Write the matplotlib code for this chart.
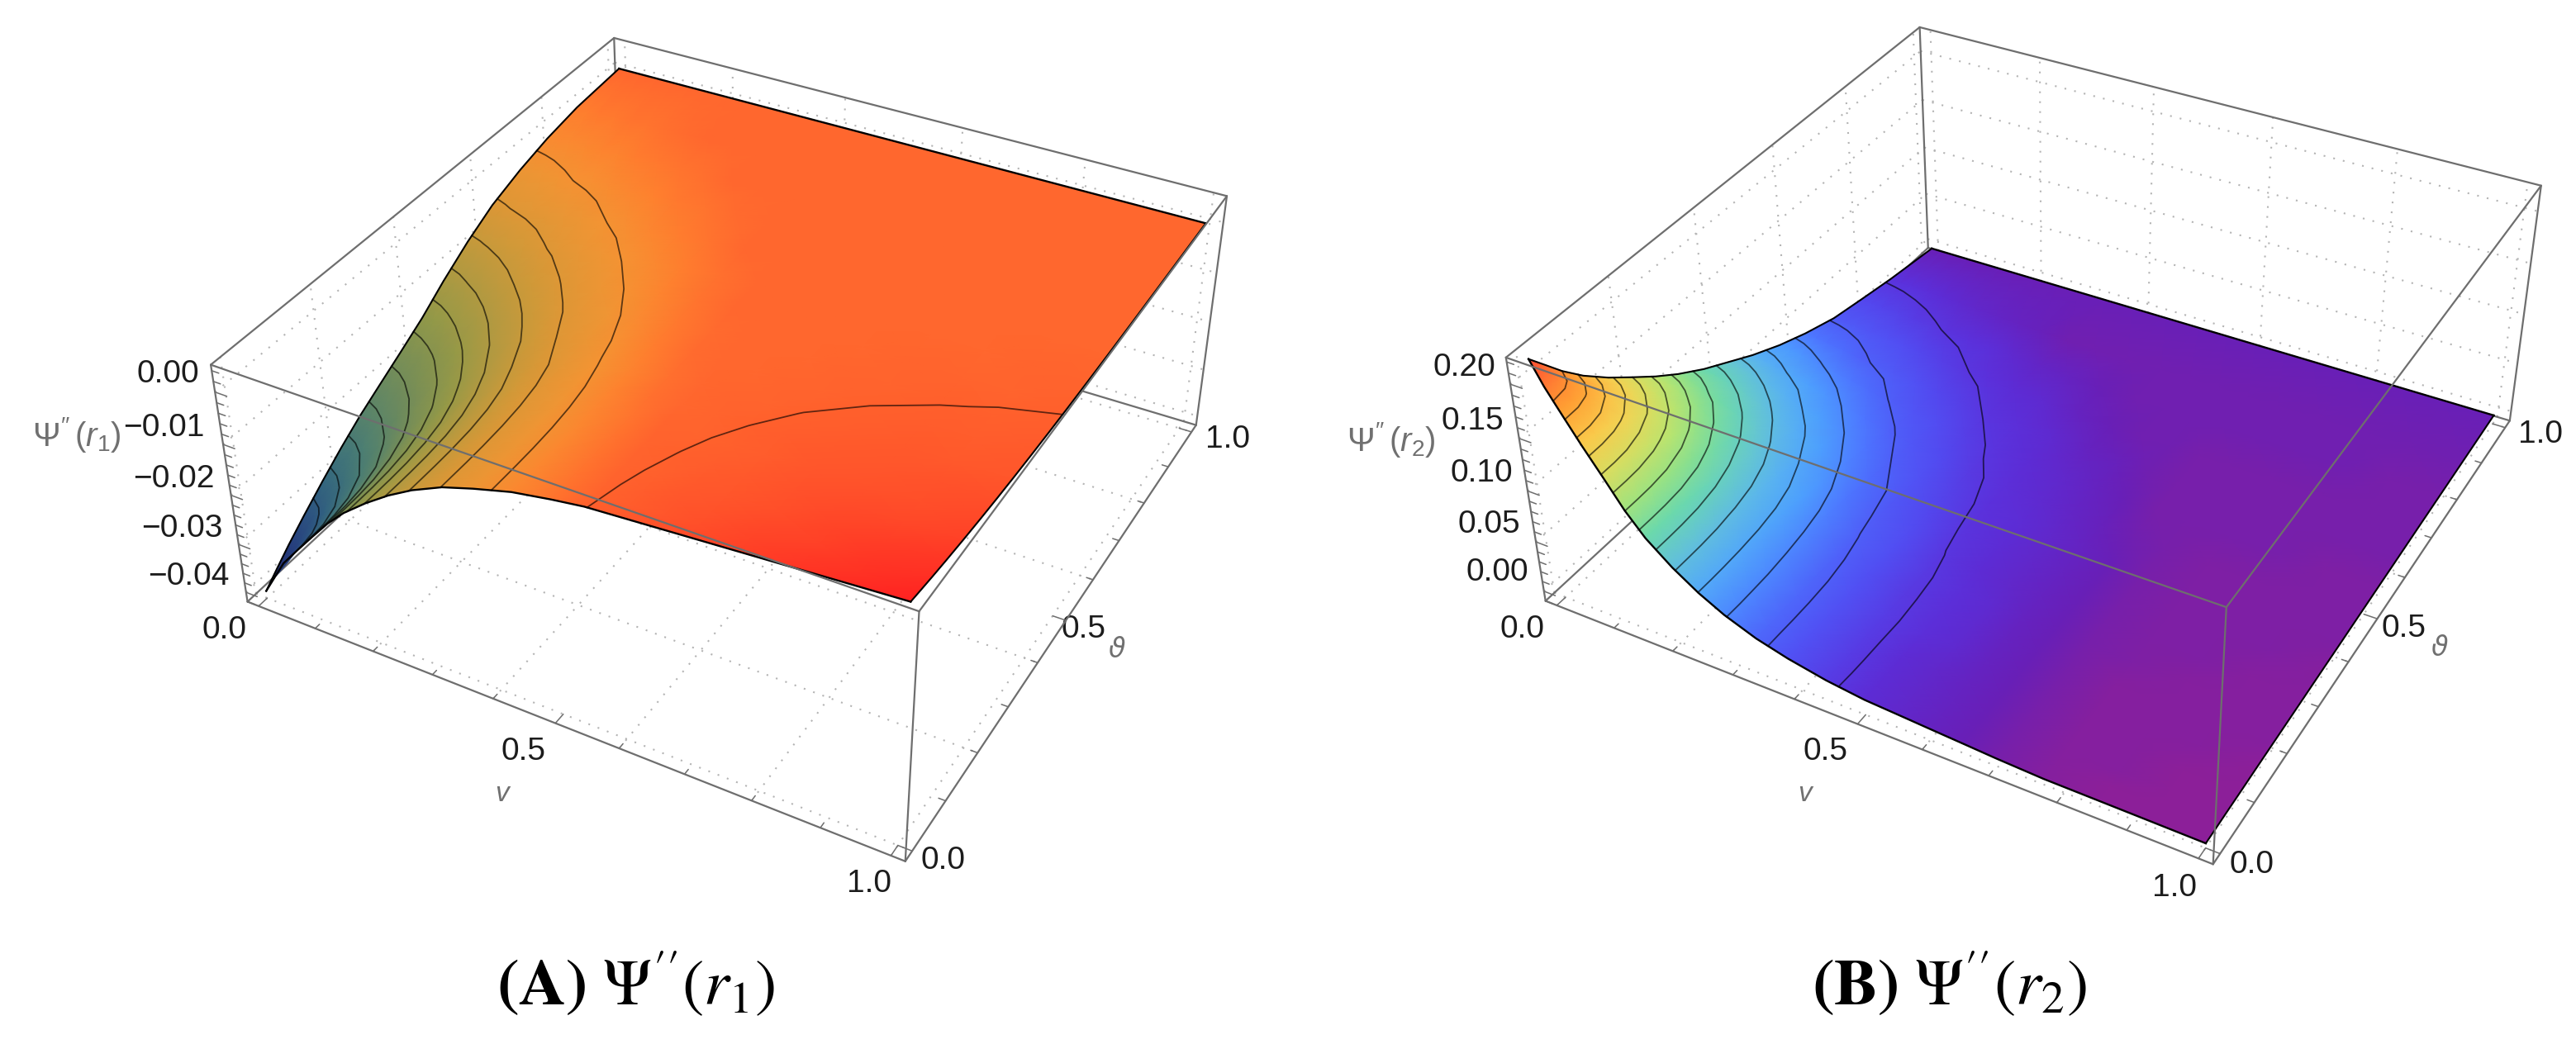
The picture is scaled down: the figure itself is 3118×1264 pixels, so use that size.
import numpy as np
import matplotlib
matplotlib.use("Agg")
import matplotlib.pyplot as plt
from matplotlib.colors import LinearSegmentedColormap
from contourpy import contour_generator

plt.rcParams['font.family'] = ['Liberation Sans', 'DejaVu Sans']
plt.rcParams['mathtext.fontset'] = 'custom'
plt.rcParams['mathtext.rm'] = 'Liberation Sans'
plt.rcParams['mathtext.it'] = 'Liberation Sans:italic'
plt.rcParams['mathtext.bf'] = 'Liberation Sans:bold'

# sample positions along the two horizontal axes
v_values = [0,.02,.04,.07,.1,.13,.16,.2,.24,.28,.33,.38,.44,.5,.55,.6,.65,.7,.77,.85,.92,1.]
theta_values = [0,.03,.06,.1,.15,.2,.25,.3,.36,.42,.48,.55,.62,.7,.78,.87,1.]

# Psi''(r1), in units of 1e-5; rows follow theta_values, columns follow v_values
psi_r1_e5 = [
[-4050,-3665,-3285,-2870,-2466,-2072,-1736,-1371,-1050,-779,-509,-323,-129,-7,77,114,151,188,240,299,351,410],
[-3810,-3611,-3275,-2866,-2464,-2071,-1735,-1371,-1050,-779,-509,-323,-129,-7,73,106,139,173,219,272,319,372],
[-3580,-3448,-3212,-2838,-2449,-2063,-1732,-1369,-1048,-778,-509,-322,-129,-6,70,99,129,158,200,247,289,336],
[-3300,-3202,-3044,-2741,-2394,-2032,-1716,-1358,-1040,-773,-506,-320,-127,-6,65,91,116,141,177,217,253,293],
[-2970,-2896,-2779,-2548,-2269,-1950,-1671,-1326,-1018,-758,-497,-312,-123,-4,61,81,102,122,151,184,213,246],
[-2660,-2601,-2508,-2325,-2100,-1839,-1593,-1267,-975,-729,-480,-298,-114,-1,57,73,90,106,129,156,179,206],
[-2380,-2332,-2258,-2106,-1908,-1706,-1477,-1175,-910,-683,-454,-276,-101,4,53,66,79,93,111,132,150,171],
[-2140,-2094,-2023,-1884,-1730,-1536,-1328,-1059,-818,-619,-417,-244,-81,10,50,60,71,81,95,112,126,142],
[-1856,-1816,-1756,-1633,-1470,-1297,-1116,-900,-702,-517,-357,-202,-49,21,47,55,62,70,80,92,102,114],
[-1564,-1516,-1447,-1323,-1183,-1042,-905,-729,-561,-432,-282,-153,-32,35,45,50,56,61,68,76,84,92],
[-1216,-1174,-1114,-1020,-916,-803,-699,-553,-440,-333,-203,-97,-11,40,44,47,51,54,59,65,70,75],
[-858,-828,-787,-718,-639,-553,-481,-395,-302,-212,-121,-38,16,40,42,44,46,48,51,55,58,61],
[-561,-538,-510,-470,-424,-374,-318,-240,-179,-117,-43,-5,40,40,41,42,43,45,46,48,50,51],
[-335,-321,-302,-265,-226,-196,-164,-115,-63,-32,0,35,40,40,40,41,41,42,43,43,44,45],
[-165,-156,-145,-123,-98,-69,-45,-28,-9,13,40,40,40,40,40,40,40,41,41,41,41,42],
[-38,-35,-31,-23,-14,-3,8,25,40,40,40,40,40,40,40,40,40,40,40,40,40,40],
[40,40,40,40,40,40,40,40,40,40,40,40,40,40,40,40,40,40,40,40,40,40],
]

# Psi''(r2), in units of 1e-4; rows follow theta_values, columns follow v_values
psi_r2_e4 = [
[2194,1981,1804,1544,1300,1049,847,651,492,366,249,168,96,49,31,12,-6,-25,-44,-47,-50,-54],
[2035,1933,1792,1539,1298,1048,847,651,493,367,249,168,97,50,32,13,-5,-24,-43,-46,-49,-53],
[1875,1817,1724,1509,1284,1042,844,650,492,366,249,169,97,51,32,14,-4,-23,-42,-45,-48,-51],
[1691,1645,1573,1429,1233,1019,833,644,488,364,248,169,97,51,33,15,-3,-21,-40,-44,-46,-50],
[1496,1463,1409,1295,1135,960,802,626,478,357,244,168,97,52,34,16,-2,-20,-39,-42,-44,-47],
[1323,1292,1242,1143,1019,879,752,598,460,344,235,164,94,52,34,16,-2,-20,-37,-40,-42,-45],
[1154,1127,1085,1001,896,797,693,555,432,327,222,159,90,52,34,16,-2,-20,-35,-38,-40,-43],
[1001,975,935,869,795,711,620,499,395,304,205,150,83,51,33,15,-2,-20,-34,-36,-38,-41],
[840,821,792,739,674,602,526,432,342,267,189,136,71,48,30,13,-5,-22,-32,-34,-36,-38],
[702,684,658,609,553,490,437,359,290,220,168,118,65,44,27,9,-8,-25,-30,-32,-33,-36],
[564,548,524,483,444,400,351,293,231,188,142,95,59,38,21,4,-14,-26,-28,-29,-31,-33],
[426,415,398,367,334,300,263,213,182,150,108,70,49,29,12,-5,-22,-24,-25,-27,-28,-30],
[311,302,288,264,235,210,192,166,138,108,73,56,36,16,-1,-17,-21,-22,-23,-24,-25,-27],
[203,198,192,179,166,151,134,110,85,68,51,35,16,-3,-17,-18,-19,-19,-20,-21,-22,-23],
[138,134,128,117,104,90,77,64,52,39,24,9,-9,-15,-15,-16,-16,-17,-17,-18,-19,-20],
[69,66,63,56,49,41,33,23,12,1,-12,-12,-13,-13,-13,-13,-14,-14,-14,-15,-15,-16],
[-10,-10,-10,-10,-10,-10,-10,-10,-10,-10,-10,-10,-10,-10,-10,-10,-10,-10,-10,-10,-10,-10],
]

# mesh levels drawn on each surface
levels_r1 = [.0008,-.0023,-.0052,-.0081,-.011,-.0139,-.0168,-.0197,-.0226,-.0255,-.0284,-.0313]
levels_r2 = [.1875,.1737,.1599,.1461,.1323,.1185,.1047,.0909,.0771,.0633,.0495,.0357,.0219,.0081]

V = np.array(v_values)
T = np.array(theta_values)
ZA = np.array(psi_r1_e5)*1e-5
ZB = np.array(psi_r2_e4)*1e-4

cmapA = LinearSegmentedColormap.from_list('a',[(0,(.13,.13,.38)),(.13,(.15,.25,.5)),(.25,(.2,.4,.5)),(.36,(.3,.5,.45)),(.47,(.45,.55,.35)),(.58,(.58,.6,.28)),(.69,(.72,.6,.25)),(.76,(.82,.6,.22)),(.86,(.96,.58,.2)),(.90,(1,.5,.18)),(.92,(1,.41,.18)),(1,(1,.13,.13))])
cmapB = LinearSegmentedColormap.from_list('b',[(0,(.55,.12,.6)),(.02,(.41,.12,.72)),(.046,(.36,.18,.85)),(.09,(.32,.3,.95)),(.152,(.3,.45,1)),(.213,(.3,.62,1)),(.275,(.35,.7,.95)),(.336,(.4,.78,.82)),(.398,(.42,.85,.68)),(.46,(.55,.88,.55)),(.52,(.7,.9,.45)),(.58,(.8,.88,.4)),(.642,(.92,.85,.35)),(.704,(.98,.8,.3)),(.766,(1,.7,.25)),(.827,(1,.62,.2)),(.87,(1,.55,.2)),(1,(1,.28,.2))])

panels = [
 dict(Z=ZA, cmap=cmapA, zr=(-.042,.0051), zd=(-.0412,.0041), levels=levels_r1,
      corners={(0,0,1):(255,441),(0,0,0):(300,729),(1,0,1):(1113,740),(1,0,0):(1095,1043),(1,1,1):(1485,238),(1,1,0):(1448,514),(0,1,1):(743,46)},
      zt=[0,-.01,-.02,-.03,-.04], zm=.002,
      zl=[('0.00',241,453),('\u22120.01',248,518),('\u22120.02',260,580),('\u22120.03',270,640),('\u22120.04',278,698)],
      vl=[('0.0',272,763),('0.5',634,910),('1.0',1052,1070)], tl=[('0.0',1142,1042),('0.5',1312,762),('1.0',1486,532)],
      vlab=(609,961), tlab=(1352,786), zlab=(93,527,r"$\mathrm{\Psi}^{\prime\prime}\,(r_1)$"), cap=(770,1192,r"$\mathbf{(A)}\ \mathrm{\Psi}''(r_1)$")),
 dict(Z=ZB, cmap=cmapB, zr=(-.01,.224), zd=(-.0054,.2194), levels=levels_r2,
      corners={(0,0,1):(1824,432),(0,0,0):(1870,727),(1,0,1):(2694,736),(1,0,0):(2679,1047),(1,1,1):(3076,227),(1,1,0):(3038,506),(0,1,1):(2323,31),(0,1,0):(2334,303)},
      zt=[.2,.15,.1,.05,0], zm=.01,
      zl=[('0.20',1810,445),('0.15',1820,510),('0.10',1831,573),('0.05',1840,635),('0.00',1850,693)],
      vl=[('0.0',1843,762),('0.5',2210,910),('1.0',2632,1075)], tl=[('0.0',2726,1047),('0.5',2910,761),('1.0',3075,526)],
      vlab=(2186,961), tlab=(2953,785), zlab=(1684,533,r"$\mathrm{\Psi}^{\prime\prime}\,(r_2)$"), cap=(2360,1192,r"$\mathbf{(B)}\ \mathrm{\Psi}''(r_2)$")),
]

fig = plt.figure(figsize=(31.18,12.64), dpi=100)
ax = fig.add_axes([0,0,1,1]); ax.set_xlim(0,3118); ax.set_ylim(1264,0); ax.axis('off')
BOX='#6e6e6e'; GRID='#b4b4b4'; TXT='#1c1c1c'; LAB='#707070'

def fit(corners):
    A=[];b=[]
    for (X,Y,Zc),(x,y) in corners.items():
        A.append([X,Y,Zc,1,0,0,0,0,-x*X,-x*Y,-x*Zc]); b.append(x)
        A.append([0,0,0,0,X,Y,Zc,1,-y*X,-y*Y,-y*Zc]); b.append(y)
    p=np.linalg.lstsq(np.array(A,float),np.array(b,float),rcond=None)[0]
    return np.append(p,1).reshape(3,4)

for P in panels:
    M=fit(P['corners']); z0,z1=P['zr']
    def proj(v,t,z):
        v,t,z=np.broadcast_arrays(np.asarray(v,float),np.asarray(t,float),np.asarray(z,float))
        X=(v+.02)/1.04;Y=(t+.02)/1.04;W=(z-z0)/(z1-z0)
        a=M[0,0]*X+M[0,1]*Y+M[0,2]*W+M[0,3]
        c=M[1,0]*X+M[1,1]*Y+M[1,2]*W+M[1,3]
        d=M[2,0]*X+M[2,1]*Y+M[2,2]*W+M[2,3]
        return a/d,c/d
    def seg(p,q,**k):
        x,y=proj([p[0],q[0]],[p[1],q[1]],[p[2],q[2]]); ax.plot(x,y,solid_capstyle='round',**k)
    lo,hi=-.02,1.02
    grid=dict(color=GRID,lw=1.5,ls=(0,(1,4.76)),zorder=1)
    for g in [0,.2,.4,.6,.8,1]:
        seg((g,lo,z0),(g,hi,z0),**grid); seg((lo,g,z0),(hi,g,z0),**grid)
        seg((g,hi,z0),(g,hi,z1),**grid); seg((lo,g,z0),(lo,g,z1),**grid)
    for g in P['zt']:
        seg((lo,hi,g),(hi,hi,g),**grid); seg((lo,lo,g),(lo,hi,g),**grid)
    edge=dict(color=BOX,lw=1.6,zorder=2)
    seg((lo,lo,z0),(lo,hi,z0),**edge); seg((lo,hi,z0),(hi,hi,z0),**edge); seg((lo,hi,z0),(lo,hi,z1),**edge)
    VV,TT=np.meshgrid(V,T); Z=P['Z']
    X2,Y2=proj(VV,TT,Z)
    ax.pcolormesh(X2,Y2,Z,cmap=P['cmap'],vmin=P['zd'][0],vmax=P['zd'][1],shading='gouraud',zorder=3)
    gen=contour_generator(V,T,Z)
    for L in P['levels']:
        for ln in gen.lines(L):
            x,y=proj(ln[:,0],ln[:,1],L); ax.plot(x,y,color=(0,0,0,.62),lw=1.3,zorder=4)
    for i in [0,-1]:
        x,y=proj(V,T[i]*np.ones_like(V),Z[i,:]); ax.plot(x,y,color='k',lw=1.7,zorder=5)
        x,y=proj(V[i]*np.ones_like(T),T,Z[:,i]); ax.plot(x,y,color='k',lw=1.5,zorder=5)
    edge['zorder']=6
    for p,q in [((lo,lo,z1),(hi,lo,z1)),((hi,lo,z1),(hi,hi,z1)),((hi,lo,z1),(hi,lo,z0)),((lo,lo,z0),(hi,lo,z0)),((hi,lo,z0),(hi,hi,z0)),((lo,lo,z0),(lo,lo,z1)),((hi,hi,z0),(hi,hi,z1)),((lo,lo,z1),(lo,hi,z1)),((lo,hi,z1),(hi,hi,z1))]:
        seg(p,q,**edge)
    tick=dict(color=BOX,lw=1.1,zorder=6)
    for k in range(11):
        g=k/10; L=.02 if k%5==0 else .01
        seg((g,lo,z0),(g,lo+L,z0),**tick); seg((hi,g,z0),(hi-L,g,z0),**tick)
    zs=np.arange(round(z0/P['zm'])*P['zm'],z1,P['zm'])
    for zz in zs:
        if zz<z0: continue
        maj=any(abs(zz-t)<1e-6 for t in P['zt'])
        seg((lo,lo,zz),(lo+(.02 if maj else .012),lo,zz),**tick)
    for s,x,y in P['zl']: ax.text(x,y,s,ha='right',va='center',fontsize=28,color=TXT)
    for s,x,y in P['vl']+P['tl']: ax.text(x,y,s,ha='center',va='center',fontsize=28,color=TXT)
    ax.text(*P['vlab'],r"$\mathit{v}$",ha='center',va='center',fontsize=24,color=LAB)
    ax.text(*P['tlab'],"\u03d1",ha='center',va='center',fontsize=24,color=LAB,style='italic',family=['DejaVu Sans'])
    x,y,s=P['zlab']; ax.text(x,y,s,ha='center',va='center',fontsize=29,color=LAB)
    x,y,s=P['cap']; ax.text(x,y,s,ha='center',va='center',fontsize=57,color='k',math_fontfamily='stix')
fig.savefig('out.png',dpi=100)
